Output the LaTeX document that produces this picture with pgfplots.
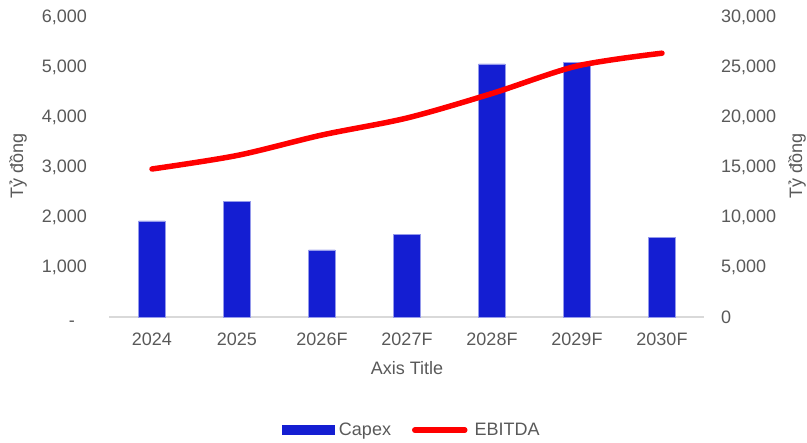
\documentclass[border=0pt]{standalone}
\usepackage{fontspec}
\setmainfont{Liberation Sans}
\usepackage{pgfplots}
\pgfplotsset{compat=1.18}
\definecolor{capex}{RGB}{20,30,210}
\definecolor{txt}{RGB}{89,89,89}
\definecolor{axgray}{RGB}{217,217,217}
\begin{document}
\begin{tikzpicture}[font=\fontsize{18}{21}\selectfont]
\pgfplotsset{every axis/.append style={scale only axis, width=595pt, height=300pt,
  xmin=-0.5, xmax=6.5, at={(0pt,0pt)}, anchor=south west, clip=false,
  tick style={draw=none}, major tick length=0pt,
  scaled y ticks=false,
  ticklabel style={text=txt, font=\fontsize{18}{21}\selectfont}}}
\begin{axis}[
  axis y line*=left, axis x line*=bottom,
  y axis line style={draw=none},
  x axis line style={draw=axgray, line width=1.5pt, -},
  ymin=0, ymax=6000,
  ytick={0,1000,2000,3000,4000,5000,6000},
  yticklabels={{\vphantom{0}\raisebox{-3pt}[0pt][0pt]{-}\rule{12pt}{0pt}},{1,000},{2,000},{3,000},{4,000},{5,000},{6,000}},
  yticklabel style={anchor=east, inner sep=0pt, xshift=-22.5pt},
  xtick={0,1,2,3,4,5,6},
  xticklabels={2024,2025,2026F,2027F,2028F,2029F,2030F},
  xticklabel style={anchor=north, inner sep=0pt, yshift=-16pt},
]
\addplot[ybar, bar width=26.5pt, fill=capex, draw=capex!45!white, line width=0.6pt]
  coordinates {(0,1920) (1,2313) (2,1340) (3,1653) (4,5060) (5,5093) (6,1587)};
\node[text=txt, anchor=center] at ([yshift=-51pt]axis description cs:0.5,0) {Axis Title};
\node[text=txt, anchor=center, rotate=90] at ([xshift=-91.5pt]axis description cs:0,0.503) {Tỷ đồng};
\end{axis}
\begin{axis}[
  axis y line*=right, axis x line=none,
  y axis line style={draw=none},
  ymin=0, ymax=30000,
  ytick={0,5000,10000,15000,20000,25000,30000},
  yticklabels={0,{5,000},{10,000},{15,000},{20,000},{25,000},{30,000}},
  yticklabel style={anchor=west, inner sep=0pt, xshift=16.5pt},
  legend columns=2,
  legend style={at={(axis description cs:0.506,-0.377)}, anchor=center, draw=none,
    fill=none, text=txt, font=\fontsize{18}{21}\selectfont,
    nodes={inner sep=0pt, anchor=west},
    /tikz/column 2/.style={column sep=21pt}},
]
\addlegendimage{legend image code/.code={\fill[capex] (0pt,-4.5pt) rectangle (52pt,4.5pt); \path (57pt,0pt);}}
\addlegendentry{Capex}
\addplot[red, line width=5.5pt, smooth, tension=0.5, line cap=round,
  legend image code/.code={\draw[red, line width=5.5pt, line cap=round] (3pt,0pt) -- (53pt,0pt); \path (60pt,0pt);}]
  coordinates {(0,14800) (1,16150) (2,18200) (3,19900) (4,22350) (5,25100) (6,26380)};
\addlegendentry{EBITDA}
\node[text=txt, anchor=center, rotate=90] at ([xshift=92.5pt]axis description cs:1,0.503) {Tỷ đồng};
\end{axis}
\pgfresetboundingbox
\path[use as bounding box] (-109.5pt,-126pt) rectangle (697.5pt,317pt);
\end{tikzpicture}
\end{document}
